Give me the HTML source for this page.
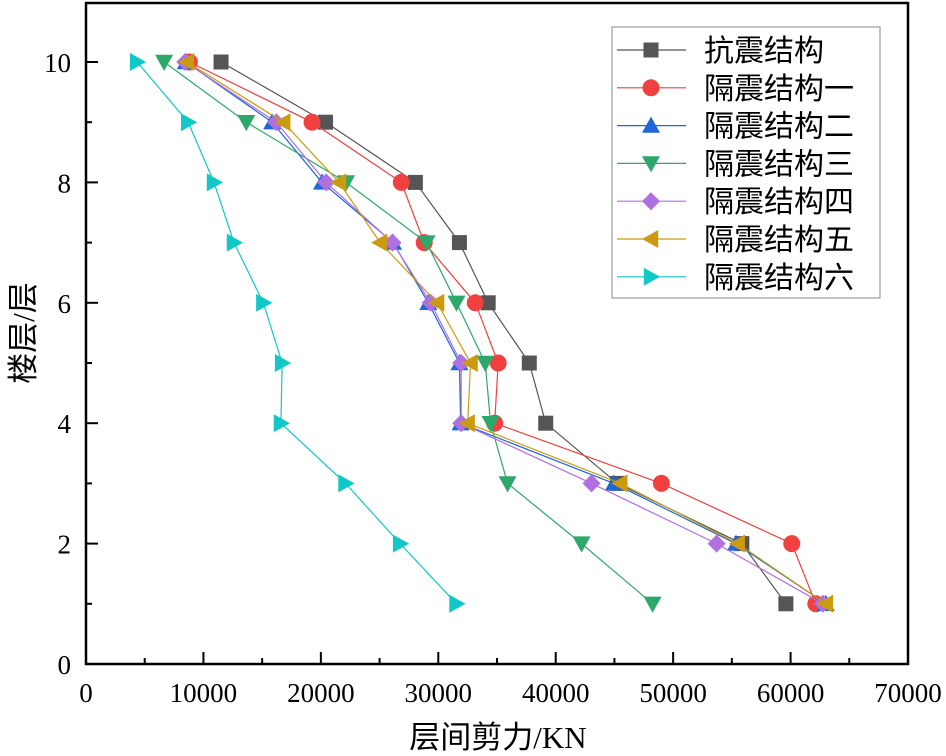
<!DOCTYPE html>
<html><head><meta charset="utf-8"><style>
html,body{margin:0;padding:0;background:#fff;}
svg{display:block;}
</style></head><body>
<svg id="chart" width="946" height="756" viewBox="0 0 946 756" xmlns="http://www.w3.org/2000/svg">
<g id="axes"></g>
<g id="series"></g>
<g id="legend"></g>
</svg>
<script>
const floors = [10,9,8,7,6,5,4,3,2,1];
const sKangzhen = [11500,20400,28050,31800,34250,37750,39150,45250,55850,59600];
const sGe1 = [8800,19250,26850,28800,33150,35100,34800,49000,60100,62150];
const sGe2 = [8500,15850,20100,26150,29150,31800,31900,44950,55350,63000];
const sGe3 = [6650,13650,22150,29000,31550,34000,34450,35900,42200,48250];
const sGe4 = [8450,16200,20450,26100,29350,31950,31950,43050,53700,62750];
const sGe5 = [8600,16800,21550,25050,29900,32750,32500,45500,55500,63000];
const sGe6 = [4350,8700,10900,12600,15100,16700,16600,22100,26750,31550];
const seriesNames = ["抗震结构","隔震结构一","隔震结构二","隔震结构三","隔震结构四","隔震结构五","隔震结构六"];
const xTicks = [0,10000,20000,30000,40000,50000,60000,70000];
const yTicks = [0,2,4,6,8,10];

const NS="http://www.w3.org/2000/svg";
const L=86,R=908,T=3,B=664;
const xMax=70000,yMax=10;
function xs(v){return L+(v/xMax)*(R-L);}
function ys(v){return B-(v/10)*(B-62);}
function mk(tag,attrs,parent){const e=document.createElementNS(NS,tag);for(const k in attrs)e.setAttribute(k,attrs[k]);parent.appendChild(e);return e;}
const axes=document.getElementById('axes');
const FS='"Liberation Serif", "Noto Serif CJK SC", serif';
const FC='"Liberation Serif", "Noto Sans CJK SC", sans-serif';
const frame=mk('rect',{x:L,y:T,width:R-L,height:B-T,fill:'none',stroke:'#000','stroke-width':2.5},axes);


for(let i=0;i<=14;i++){
  const v=i*5000,x=xs(v),len=(i%2===0)?12:6;
  const t=mk('line',{x1:x,y1:B,x2:x,y2:B-len,stroke:'#000','stroke-width':2},axes);
  
  
}
xTicks.forEach(v=>{
  const t=mk('text',{x:xs(v),y:702,'text-anchor':'middle','font-size':27,'font-family':FS,fill:'#000'},axes);
  t.textContent=v;
  
  
});
for(let i=0;i<=10;i++){
  const y=ys(i),len=(i%2===0)?12:6;
  const t=mk('line',{x1:L,y1:y,x2:L+len,y2:y,stroke:'#000','stroke-width':2},axes);
  
  
}
yTicks.forEach(v=>{
  const t=mk('text',{x:71,y:ys(v)+10,'text-anchor':'end','font-size':27,'font-family':FS,fill:'#000'},axes);
  t.textContent=v;
  
  
});
const xt=mk('text',{x:498,y:748,'text-anchor':'middle','font-size':31,'font-family':FC,fill:'#000'},axes);
xt.textContent='层间剪力/KN';


const yt=mk('text',{x:0,y:0,'text-anchor':'middle','font-size':31,'font-family':FC,fill:'#000',transform:'translate(34,333) rotate(-90)'},axes);
yt.textContent='楼层/层';



const colors=['#555555','#f04040','#1f66d8','#2ea86a','#b070e0','#cc9a10','#10c8c8'];
const shapes=['square','circle','up','down','diamond','left','right'];
const allData=[sKangzhen,sGe1,sGe2,sGe3,sGe4,sGe5,sGe6];
function marker(shape,x,y,c,parent){
  const s=9;
  let e;
  if(shape==='square') e=mk('rect',{x:x-7.5,y:y-7.5,width:15,height:15,fill:c},parent);
  else if(shape==='circle') e=mk('circle',{cx:x,cy:y,r:8.5,fill:c},parent);
  else{
    let p;
    if(shape==='up') p=[[x,y-s],[x+s,y+s*0.8],[x-s,y+s*0.8]];
    if(shape==='down') p=[[x,y+s],[x+s,y-s*0.8],[x-s,y-s*0.8]];
    if(shape==='left') p=[[x-s,y],[x+s*0.8,y-s],[x+s*0.8,y+s]];
    if(shape==='right') p=[[x+s,y],[x-s*0.8,y-s],[x-s*0.8,y+s]];
    if(shape==='diamond') p=[[x,y-9],[x+9,y],[x,y+9],[x-9,y]];
    e=mk('polygon',{points:p.map(q=>q.join(',')).join(' '),fill:c},parent);
  }
  return e;
}
const sg=document.getElementById('series');
allData.forEach((arr,si)=>{
  const g=mk('g',{},sg);
  
  
  const pts=arr.map((v,i)=>xs(v)+','+ys(floors[i])).join(' ');
  const pl=mk('polyline',{points:pts,fill:'none',stroke:colors[si],'stroke-width':1.2},g);
  
  
  arr.forEach((v,i)=>{
    const m=marker(shapes[si],xs(v),ys(floors[i]),colors[si],g);
    
    
  });
});
const lg=document.getElementById('legend');
const box=mk('rect',{x:612,y:27,width:268,height:271,fill:'#fff',stroke:'#888','stroke-width':1},lg);


seriesNames.forEach((n,i)=>{
  const y=50+i*37.8;
  const g=mk('g',{},lg);
  
  
  mk('line',{x1:617,y1:y,x2:686,y2:y,stroke:colors[i],'stroke-width':1.2},g);
  marker(shapes[i],651,y,colors[i],g);
  const t=mk('text',{x:704,y:y+11,'font-size':30,'font-family':FC,fill:'#000'},g);
  t.textContent=n;
});
</script>
</body></html>
